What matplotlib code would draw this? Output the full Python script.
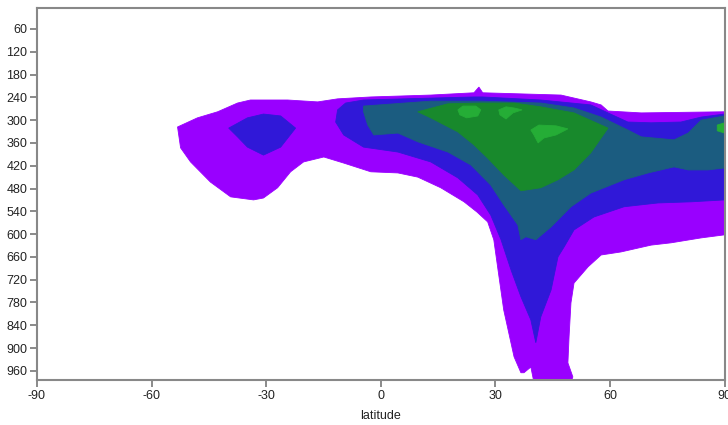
import numpy as np
import matplotlib
matplotlib.use("Agg")
from matplotlib import pyplot as plt

plt.rcParams['font.family'] = ['Liberation Sans', 'DejaVu Sans']

# contour outlines as (latitude, pressure hPa)
purple_lat = [-53.2, -48.0, -42.7, -37.5, -34.1, -24.4, -16.5, -11.3, -2.6, 13.1, 24.4, 25.7, 26.7,
              47.2, 55.0, 57.7, 59.5, 68.2, 90, 90, 83.9, 76.0, 70.8, 62.9, 57.7, 54.3, 50.6, 49.8,
              49.3, 49.0, 50.3, 49.8, 40.1, 39.3, 37.5, 36.7, 34.9, 32.2, 30.7, 29.6, 28.0, 25.2,
              21.8, 15.7, 9.7, 4.5, -2.6, -9.7, -14.9, -20.2, -23.6, -27.0, -30.7, -33.3, -39.3,
              -44.6, -49.8, -52.4]
purple_p = [318, 294, 278, 255, 247, 247, 252, 244, 239, 234, 228, 213, 228,
            234, 252, 260, 276, 281, 278, 602, 610, 623, 629, 647, 655, 686, 729, 781,
            871, 939, 976, 990, 990, 950, 965, 965, 923, 800, 694, 615, 568, 542,
            515, 478, 450, 439, 436, 413, 397, 410, 436, 478, 505, 510, 502,
            463, 410, 373]

blue_small_lat = [-39.8, -34.9, -30.7, -26.2, -22.3, -26.2, -30.7, -34.9, -37.5]
blue_small_p = [321, 294, 284, 289, 321, 371, 392, 371, 344]

blue_lat = [-11.3, -9.2, -4.5, 13.1, 24.4, 26.7, 41.9, 55.0, 59.5, 64.7, 70.8, 78.6, 83.9, 90,
            90, 81.3, 72.6, 63.7, 55.8, 50.6, 48.0, 46.4, 44.6, 41.9, 40.6, 39.3, 36.7, 34.1,
            31.5, 28.8, 25.4, 20.2, 13.1, 4.5, -4.5, -9.7, -11.8]
blue_p = [273, 255, 247, 242, 239, 239, 247, 260, 281, 305, 307, 305, 292, 284,
          510, 515, 518, 528, 555, 589, 634, 660, 747, 818, 886, 826, 765, 694,
          615, 550, 497, 452, 410, 384, 371, 339, 305]

teal_lat = [-4.5, 13.1, 26.2, 41.9, 50.6, 57.7, 64.7, 68.2, 76.8, 80.5, 83.9, 90,
            90, 85.7, 80.5, 76.8, 70.0, 63.7, 55.0, 49.8, 44.6, 40.6, 38.0, 36.7, 35.9,
            32.2, 28.8, 23.6, 17.6, 9.7, 4.5, -1.8, -3.4, -4.5]
teal_p = [263, 250, 250, 255, 268, 292, 326, 344, 352, 334, 300, 289,
          426, 431, 431, 423, 439, 457, 492, 528, 581, 615, 607, 615, 576,
          523, 471, 418, 384, 357, 334, 339, 313, 278]

green_lat = [9.7, 17.6, 26.2, 34.9, 41.9, 50.6, 59.5, 55.0, 50.6, 46.4, 41.9, 36.7, 32.2,
             28.0, 24.4, 20.2, 13.1]
green_p = [278, 257, 255, 255, 265, 281, 321, 386, 431, 457, 478, 486, 444,
           400, 365, 331, 294]

light_lat = [[20.2, 21.5, 24.9, 26.2, 25.4, 22.5, 20.7],
             [30.9, 32.8, 34.9, 37.0, 34.6, 32.8, 31.2],
             [39.3, 41.4, 45.9, 49.0, 45.9, 42.7, 41.2, 40.1],
             [88.1, 90, 90, 88.1]]
light_p = [[273, 263, 263, 273, 289, 294, 286],
           [273, 265, 268, 273, 281, 297, 286],
           [326, 313, 315, 323, 339, 347, 360, 339],
           [313, 307, 334, 328]]

xticks = [-90, -60, -30, 0, 30, 60, 90]
yticks = [60, 120, 180, 240, 300, 360, 420, 480, 540, 600, 660, 720, 780, 840, 900, 960]

fig = plt.figure(figsize=(7.28, 4.25), dpi=100)
ax = fig.add_axes([0.0508, 0.106, 0.9444, 0.875])

layers = [(purple_lat, purple_p, '#9900ff'),
          (blue_small_lat, blue_small_p, '#3018d8'),
          (blue_lat, blue_p, '#3018d8'),
          (teal_lat, teal_p, '#1b5c80'),
          (green_lat, green_p, '#18892c')]
for la, pr, c in layers:
    ax.fill(la, pr, color=c, ec=c, lw=0.6)
for la, pr in zip(light_lat, light_p):
    ax.fill(la, pr, color='#25ad36', ec='#25ad36', lw=0.6)

ax.set_xlim(-90, 90)
ax.set_ylim(984, 5)
ax.set_xticks(xticks)
ax.set_xticklabels([str(v) for v in xticks])
ax.set_yticks(yticks)
ax.set_yticklabels([str(v) for v in yticks])
ax.tick_params(direction='out', length=5, width=1.2, color='#777777', labelsize=9,
               labelcolor='#222222', pad=2)
for s in ax.spines.values():
    s.set_color('#888888')
    s.set_linewidth(1.5)
ax.set_xlabel('latitude', fontsize=9, color='#222222', labelpad=6)

fig.savefig('out.png', dpi=100)
